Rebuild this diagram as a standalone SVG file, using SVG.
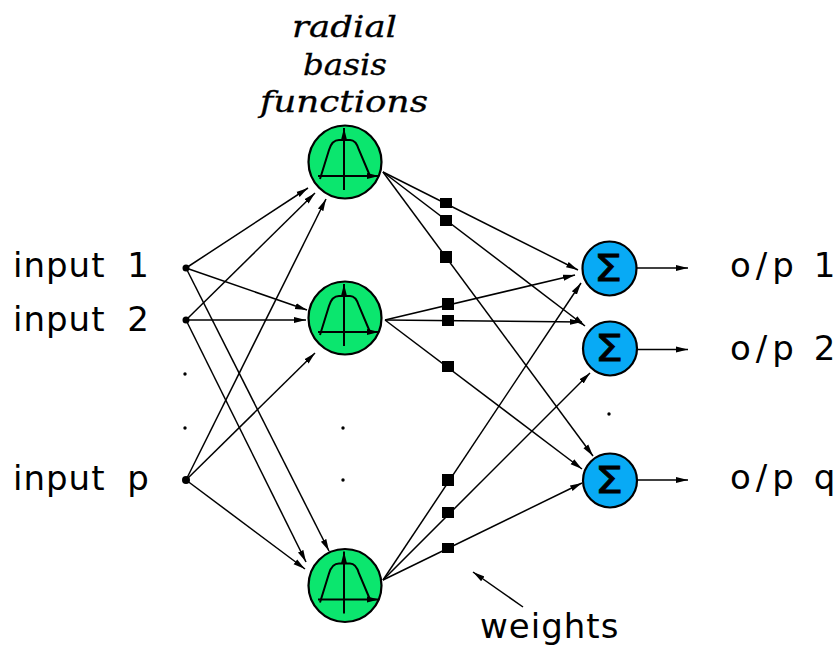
<svg xmlns="http://www.w3.org/2000/svg" width="840" height="646" viewBox="0 0 840 646">
<defs>
<marker id="a" viewBox="0 0 12 8" refX="12" refY="4" markerWidth="12" markerHeight="8" markerUnits="userSpaceOnUse" orient="auto"><path d="M0 1L12 4L0 7Z" fill="#000"/></marker>
<g id="bump"><path d="M-25 17L-16 -12Q-13 -22 -6 -22H5Q11 -22 14 -12L25 14" fill="none" stroke="#000" stroke-width="2"/><path d="M-1 28V-34" fill="none" stroke="#000" stroke-width="2" marker-end="url(#a)"/><path d="M-27 14H34" fill="none" stroke="#000" stroke-width="2" marker-end="url(#a)"/></g>
</defs>
<style>
.t{font-family:"DejaVu Sans",sans-serif;font-size:34px;fill:#000;letter-spacing:1px;word-spacing:10px}
.o{letter-spacing:5px;word-spacing:-1px}
.m{font-family:"DejaVu Serif",serif;font-style:italic;font-size:30px;fill:#000;stroke:#000;stroke-width:0.3}
.c{fill:none;stroke:#000;stroke-width:1.5;marker-end:url(#a)}
.r{fill:#0be66e;stroke:#000;stroke-width:2.2}
.s{fill:#08aaf5;stroke:#000;stroke-width:2.2}
.g{font-family:"DejaVu Sans",sans-serif;font-size:37px;fill:#000;stroke:#000;stroke-width:0.8}
.d{fill:#000}
</style>
<rect width="840" height="646" fill="#fff"/>
<g id="connectors">
<path class="c" d="M186 268L308 188"/><path class="c" d="M186 268L307 310"/><path class="c" d="M186 268L329 551"/>
<path class="c" d="M186 320L315 193"/><path class="c" d="M186 320L306 320"/><path class="c" d="M186 320L306 562"/>
<path class="c" d="M186 480L326 199"/><path class="c" d="M186 480L315 353"/><path class="c" d="M186 480L305 569"/>
<path class="c" d="M383 172L578 270"/><path class="c" d="M383 172L585 326"/><path class="c" d="M383 172L593 456"/>
<path class="c" d="M385 320L575 275"/><path class="c" d="M385 320L582 322"/><path class="c" d="M385 320L582 469"/>
<path class="c" d="M383 580L581 283"/><path class="c" d="M383 580L590 373"/><path class="c" d="M383 580L582 483"/>
<path class="c" d="M637 268H688"/><path class="c" d="M637 349.500H688"/><path class="c" d="M637 480H688"/>
<path class="c" d="M523 607L473 572"/>
</g>
<g id="weights">
<rect class="d" x="440" y="198" width="12" height="10"/><rect class="d" x="440" y="215" width="12" height="11"/><rect class="d" x="440" y="251" width="12" height="12"/>
<rect class="d" x="442" y="298" width="12" height="12"/><rect class="d" x="442" y="315" width="12" height="11"/><rect class="d" x="442" y="361" width="12" height="11"/>
<rect class="d" x="442" y="474" width="12" height="12"/><rect class="d" x="442" y="507" width="12" height="11"/><rect class="d" x="442" y="543" width="12" height="10"/>
</g>
<g id="rbf1"><circle class="r" cx="345" cy="162" r="36.500"/><use href="#bump" x="345" y="162"/></g>
<g id="rbf2"><circle class="r" cx="345" cy="318" r="36.500"/><use href="#bump" x="345" y="318"/></g>
<g id="rbf3"><circle class="r" cx="345" cy="585.500" r="36.500"/><use href="#bump" x="345" y="585.500"/></g>
<g id="sum1"><circle class="s" cx="609.500" cy="268.500" r="27"/><text class="g" x="594" y="281" textLength="28" lengthAdjust="spacingAndGlyphs">Σ</text></g>
<g id="sum2"><circle class="s" cx="610" cy="348.500" r="27"/><text class="g" x="595" y="361" textLength="28" lengthAdjust="spacingAndGlyphs">Σ</text></g>
<g id="sum3"><circle class="s" cx="610" cy="480.500" r="27"/><text class="g" x="595" y="493" textLength="28" lengthAdjust="spacingAndGlyphs">Σ</text></g>
<g id="inputs">
<circle class="d" cx="186" cy="268" r="3.500"/><circle class="d" cx="186" cy="320" r="3.500"/><circle class="d" cx="186" cy="480" r="4"/>
<circle class="d" cx="185" cy="374" r="1.700"/><circle class="d" cx="185" cy="428" r="1.700"/>
<circle class="d" cx="343" cy="428" r="1.700"/><circle class="d" cx="343" cy="480" r="1.700"/><circle class="d" cx="609" cy="414" r="1.700"/>
</g>
<g id="labels">
<text class="t" x="13" y="277">input 1</text>
<text class="t" x="13" y="331">input 2</text>
<text class="t" x="13" y="490">input p</text>
<text class="t o" x="730" y="277">o/p 1</text>
<text class="t o" x="730" y="360">o/p 2</text>
<text class="t o" x="730" y="489">o/p q</text>
<text class="t" x="480" y="638">weights</text>
<text class="m" x="292" y="37" textLength="105" lengthAdjust="spacingAndGlyphs">radial</text>
<text class="m" x="303" y="75" textLength="84" lengthAdjust="spacingAndGlyphs">basis</text>
<text class="m" x="260" y="112" textLength="168" lengthAdjust="spacingAndGlyphs">functions</text>
</g>
</svg>
